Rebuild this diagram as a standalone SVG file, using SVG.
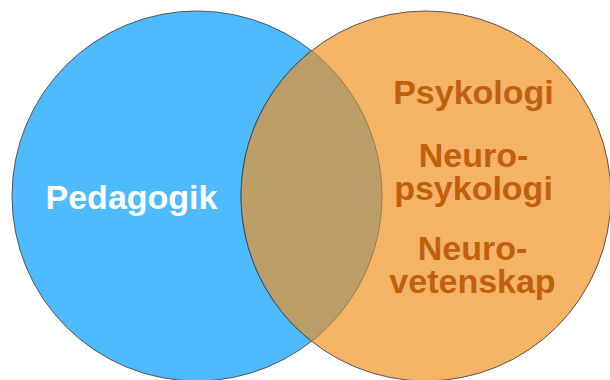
<svg xmlns="http://www.w3.org/2000/svg" width="610" height="380" viewBox="0 0 610 380">
  <style>
    .lbl { font-family: "Liberation Sans", Arial, sans-serif; font-weight: bold; font-size: 34px; text-anchor: middle; }
    .white { fill: #FFFFFF; }
    .brown { fill: #C0600F; }
  </style>
  <rect width="610" height="380" fill="#FFFFFF"/>
  <g id="pedagogik">
    <circle cx="197" cy="196" r="185" fill="#4DBBFE" stroke="#555555" stroke-width="1"/>
  </g>
  <g id="psykologi-set">
    <circle cx="426" cy="196" r="185" fill="#F5B366" stroke="#555555" stroke-width="1"/>
  </g>
  <g id="overlap">
    <path d="M 311.5 50.7 A 185 185 0 0 1 311.5 341.3 A 185 185 0 0 1 311.5 50.7 Z" fill="#BB9E68"/>
    <path d="M 311.5 50.7 A 185 185 0 0 1 311.5 341.3" fill="none" stroke="#9A7A45" stroke-width="1"/>
    <path d="M 311.5 341.3 A 185 185 0 0 1 311.5 50.7" fill="none" stroke="#3A4A55" stroke-width="1"/>
  </g>
  <g id="labels">
    <text class="lbl white" x="131.5" y="209">Pedagogik</text>
    <text class="lbl brown" x="473.5" y="104">Psykologi</text>
    <text class="lbl brown"><tspan x="473.5" y="167">Neuro-</tspan><tspan x="473.5" y="200">psykologi</tspan></text>
    <text class="lbl brown"><tspan x="472.5" y="260">Neuro-</tspan><tspan x="472.5" y="293">vetenskap</tspan></text>
  </g>
</svg>
